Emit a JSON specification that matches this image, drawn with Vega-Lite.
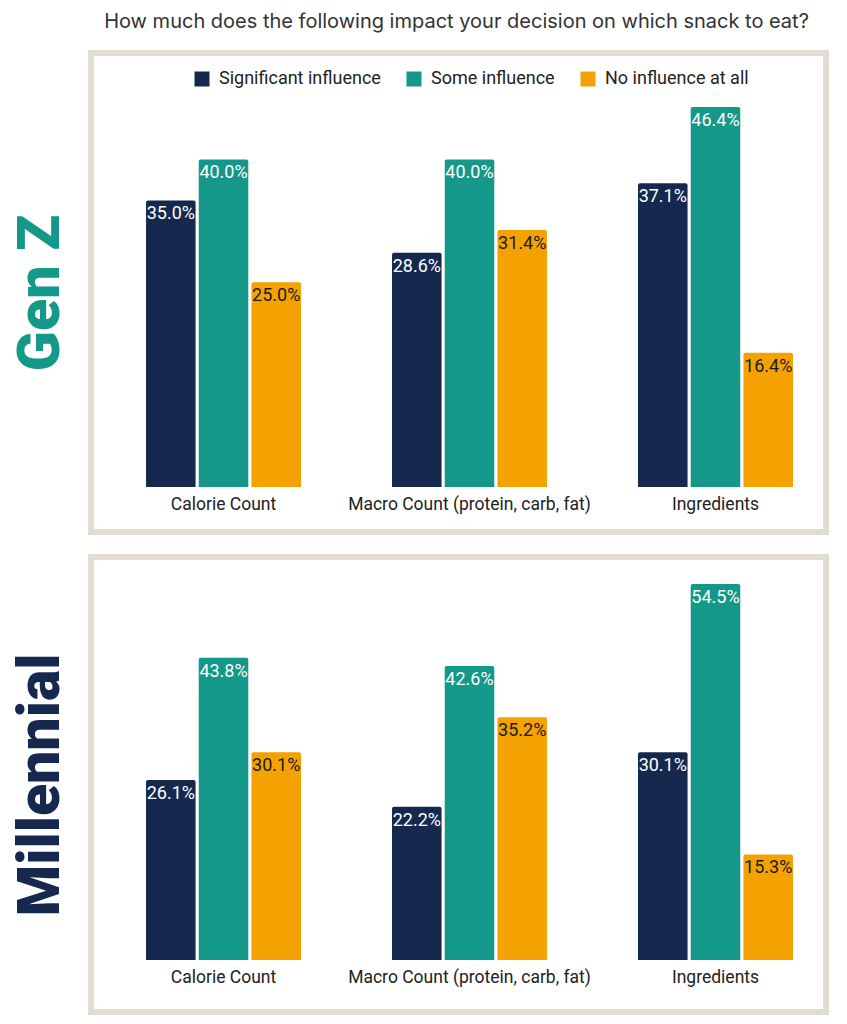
{
  "$schema": "https://vega.github.io/schema/vega-lite/v6.json",
  "background": "white",
  "padding": {"left": 8, "top": 12, "right": 10, "bottom": 5},
  "title": {
    "text": "How much does the following impact your decision on which snack to eat?",
    "font": "Inter",
    "fontSize": 20,
    "fontWeight": "normal",
    "color": "#333333",
    "anchor": "middle",
    "dx": 38,
    "offset": 18
  },
  "data": {
    "values": [
      {"gen": "Gen Z", "factor": "Calorie Count", "influence": "Significant influence", "share": 0.350},
      {"gen": "Gen Z", "factor": "Calorie Count", "influence": "Some influence", "share": 0.400},
      {"gen": "Gen Z", "factor": "Calorie Count", "influence": "No influence at all", "share": 0.250},
      {"gen": "Gen Z", "factor": "Macro Count (protein, carb, fat)", "influence": "Significant influence", "share": 0.286},
      {"gen": "Gen Z", "factor": "Macro Count (protein, carb, fat)", "influence": "Some influence", "share": 0.400},
      {"gen": "Gen Z", "factor": "Macro Count (protein, carb, fat)", "influence": "No influence at all", "share": 0.314},
      {"gen": "Gen Z", "factor": "Ingredients", "influence": "Significant influence", "share": 0.371},
      {"gen": "Gen Z", "factor": "Ingredients", "influence": "Some influence", "share": 0.464},
      {"gen": "Gen Z", "factor": "Ingredients", "influence": "No influence at all", "share": 0.164},
      {"gen": "Millennial", "factor": "Calorie Count", "influence": "Significant influence", "share": 0.261},
      {"gen": "Millennial", "factor": "Calorie Count", "influence": "Some influence", "share": 0.438},
      {"gen": "Millennial", "factor": "Calorie Count", "influence": "No influence at all", "share": 0.301},
      {"gen": "Millennial", "factor": "Macro Count (protein, carb, fat)", "influence": "Significant influence", "share": 0.222},
      {"gen": "Millennial", "factor": "Macro Count (protein, carb, fat)", "influence": "Some influence", "share": 0.426},
      {"gen": "Millennial", "factor": "Macro Count (protein, carb, fat)", "influence": "No influence at all", "share": 0.352},
      {"gen": "Millennial", "factor": "Ingredients", "influence": "Significant influence", "share": 0.301},
      {"gen": "Millennial", "factor": "Ingredients", "influence": "Some influence", "share": 0.545},
      {"gen": "Millennial", "factor": "Ingredients", "influence": "No influence at all", "share": 0.153}
    ]
  },
  "spacing": 19,
  "resolve": {"scale": {"y": "independent"}, "legend": {"color": "independent"}},
  "vconcat": [
    {
      "width": 735,
      "height": 479,
      "transform": [{"filter": "datum.gen === 'Gen Z'"}],
      "encoding": {
        "x": {
          "field": "factor", "type": "nominal",
          "sort": ["Calorie Count", "Macro Count (protein, carb, fat)", "Ingredients"],
          "scale": {"paddingInner": 0.37, "paddingOuter": 0.179, "align": 0.625},
          "axis": {"title": null, "domain": false, "ticks": false, "labelAngle": 0, "labelLimit": 0, "labelFont": "Roboto", "labelFontSize": 17.5, "labelColor": "#222222", "labelPadding": 8, "offset": -45}
        },
        "xOffset": {
          "field": "influence", "type": "nominal",
          "sort": ["Significant influence", "Some influence", "No influence at all"],
          "scale": {"paddingInner": 0.06, "paddingOuter": 0}
        },
        "y": {
          "field": "share", "type": "quantitative",
          "scale": {"domain": [-0.0549, 0.530], "nice": false, "zero": false},
          "axis": {"title": "Gen Z", "labels": false, "ticks": false, "domain": false, "grid": false, "titleFont": "Roboto", "titleFontSize": 59, "titleFontWeight": 900, "titleColor": "#13988a", "titlePadding": 21}
        }
      },
      "layer": [
        {
          "mark": {"type": "bar", "cornerRadiusTopLeft": 2, "cornerRadiusTopRight": 2},
          "encoding": {
            "y2": {"datum": 0},
            "color": {
              "field": "influence", "type": "nominal",
              "scale": {"domain": ["Significant influence", "Some influence", "No influence at all"], "range": ["#15294f", "#13988a", "#f3a202"]},
              "legend": {"orient": "none", "legendX": 102, "legendY": 17, "direction": "horizontal", "title": null, "symbolType": "square", "symbolSize": 225, "symbolStrokeWidth": 0, "symbolOpacity": 1, "labelFont": "Roboto", "labelFontSize": 18, "labelColor": "#222222", "columnPadding": 24, "labelOffset": 8, "labelLimit": 0}
            }
          }
        },
        {
          "mark": {"type": "text", "baseline": "middle", "dy": 14, "font": "Roboto", "fontSize": 18},
          "encoding": {
            "text": {"field": "share", "type": "quantitative", "format": ".1%"},
            "color": {"condition": {"test": "datum.influence === 'No influence at all'", "value": "#1b1b1b"}, "value": "white"}
          }
        }
      ]
    },
    {
      "width": 735,
      "height": 455,
      "transform": [{"filter": "datum.gen === 'Millennial'"}],
      "encoding": {
        "x": {
          "field": "factor", "type": "nominal",
          "sort": ["Calorie Count", "Macro Count (protein, carb, fat)", "Ingredients"],
          "scale": {"paddingInner": 0.37, "paddingOuter": 0.179, "align": 0.625},
          "axis": {"title": null, "domain": false, "ticks": false, "labelAngle": 0, "labelLimit": 0, "labelFont": "Roboto", "labelFontSize": 17.5, "labelColor": "#222222", "labelPadding": 8, "offset": -52}
        },
        "xOffset": {
          "field": "influence", "type": "nominal",
          "sort": ["Significant influence", "Some influence", "No influence at all"],
          "scale": {"paddingInner": 0.06, "paddingOuter": 0}
        },
        "y": {
          "field": "share", "type": "quantitative",
          "scale": {"domain": [-0.0754, 0.5841], "nice": false, "zero": false},
          "axis": {"title": "Millennial", "labels": false, "ticks": false, "domain": false, "grid": false, "titleFont": "Roboto", "titleFontSize": 59, "titleFontWeight": 900, "titleColor": "#15294f", "titlePadding": 21}
        }
      },
      "layer": [
        {
          "mark": {"type": "bar", "cornerRadiusTopLeft": 2, "cornerRadiusTopRight": 2},
          "encoding": {
            "y2": {"datum": 0},
            "color": {
              "field": "influence", "type": "nominal",
              "scale": {"domain": ["Significant influence", "Some influence", "No influence at all"], "range": ["#15294f", "#13988a", "#f3a202"]},
              "legend": null
            }
          }
        },
        {
          "mark": {"type": "text", "baseline": "middle", "dy": 14, "font": "Roboto", "fontSize": 18},
          "encoding": {
            "text": {"field": "share", "type": "quantitative", "format": ".1%"},
            "color": {"condition": {"test": "datum.influence === 'No influence at all'", "value": "#1b1b1b"}, "value": "white"}
          }
        }
      ]
    }
  ],
  "config": {
    "view": {"stroke": "#e2ddd0", "strokeWidth": 6},
    "font": "Roboto"
  }
}
